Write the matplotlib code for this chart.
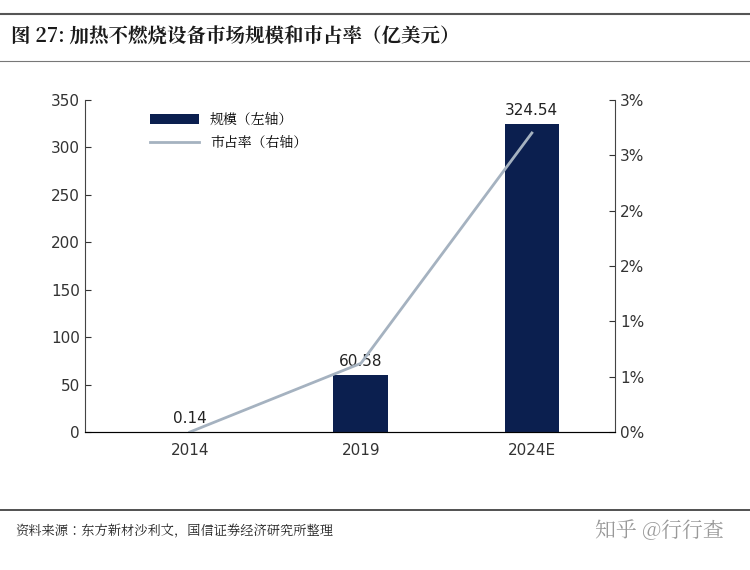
import matplotlib
matplotlib.use("Agg")
import matplotlib.pyplot as plt
from matplotlib import font_manager
from matplotlib.ticker import FuncFormatter

# pick whatever CJK font is actually registered
cjk = [f.name for f in font_manager.fontManager.ttflist if "CJK" in f.name]
cjk_name = "Noto Sans CJK SC" if "Noto Sans CJK SC" in cjk else (cjk[0] if cjk else "DejaVu Sans")
plt.rcParams["font.family"] = "sans-serif"
plt.rcParams["font.sans-serif"] = ["DejaVu Sans", cjk_name]

years = ["2014", "2019", "2024E"]
market_size = [0.14, 60.58, 324.54]
share_pct = [0.0, 0.62, 2.7]

navy = "#0b1f4f"
line_col = "#a5b2c0"

fig = plt.figure(figsize=(7.5, 5.7), dpi=100)
ax = fig.add_axes([0.113, 0.242, 0.707, 0.583])
ax2 = ax.twinx()

x = range(len(years))
ax.bar(x, market_size, width=0.32, color=navy, label="规模（左轴）", zorder=2)
for xi, v in zip(x, market_size):
    ax.text(xi, v + 6, f"{v:.2f}", ha="center", va="bottom", fontsize=11, color="#222222")
ax2.plot(x, share_pct, color=line_col, lw=2, label="市占率（右轴）")

ax.set_xlim(-0.614, 2.486)
ax.set_ylim(0, 350)
ax.set_yticks(range(0, 351, 50))
ax.set_xticks(list(x))
ax.set_xticklabels(years)
ax2.set_ylim(0, 3.0)
ax2.set_yticks([0, 0.5, 1, 1.5, 2, 2.5, 3])
ax2.yaxis.set_major_formatter(FuncFormatter(lambda v, p: f"{int(v + 0.5) if v % 1 else int(v)}%"))

for a in (ax, ax2):
    a.spines["top"].set_visible(False)
    a.tick_params(labelsize=11, colors="#333333", direction="in", length=4)
ax.spines["left"].set_color("#444444")
ax2.spines["right"].set_color("#444444")
ax.spines["bottom"].set_color("#444444")
ax.tick_params(axis="x", length=0, pad=8)
ax.spines["right"].set_visible(False)
ax2.spines["left"].set_visible(False)

h1, l1 = ax.get_legend_handles_labels()
h2, l2 = ax2.get_legend_handles_labels()
ax.legend(h1 + h2, l1 + l2, loc="upper left", bbox_to_anchor=(0.1, 1.0),
          frameon=False, fontsize=10, handlelength=3.5,
          prop={"family": cjk_name, "size": 10})

fig.text(0.015, 0.935, "图 27: 加热不燃烧设备市场规模和市占率（亿美元）",
         fontsize=14, fontweight="bold", color="#1a1a1a", va="center", family=cjk_name)
fig.add_artist(plt.Line2D([0.0, 1.0], [0.975, 0.975], color="#555555", lw=1.5))
fig.add_artist(plt.Line2D([0.0, 1.0], [0.893, 0.893], color="#777777", lw=0.8))
fig.add_artist(plt.Line2D([0.0, 1.0], [0.105, 0.105], color="#333333", lw=1.2))
fig.text(0.02, 0.068, "资料来源：东方新材沙利文，国信证券经济研究所整理",
         fontsize=9.5, color="#222222", va="center", family=cjk_name)
fig.text(0.965, 0.068, "知乎 @行行查", fontsize=15, color="#999999",
         ha="right", va="center", family=cjk_name)

fig.savefig("out.png", dpi=100)
